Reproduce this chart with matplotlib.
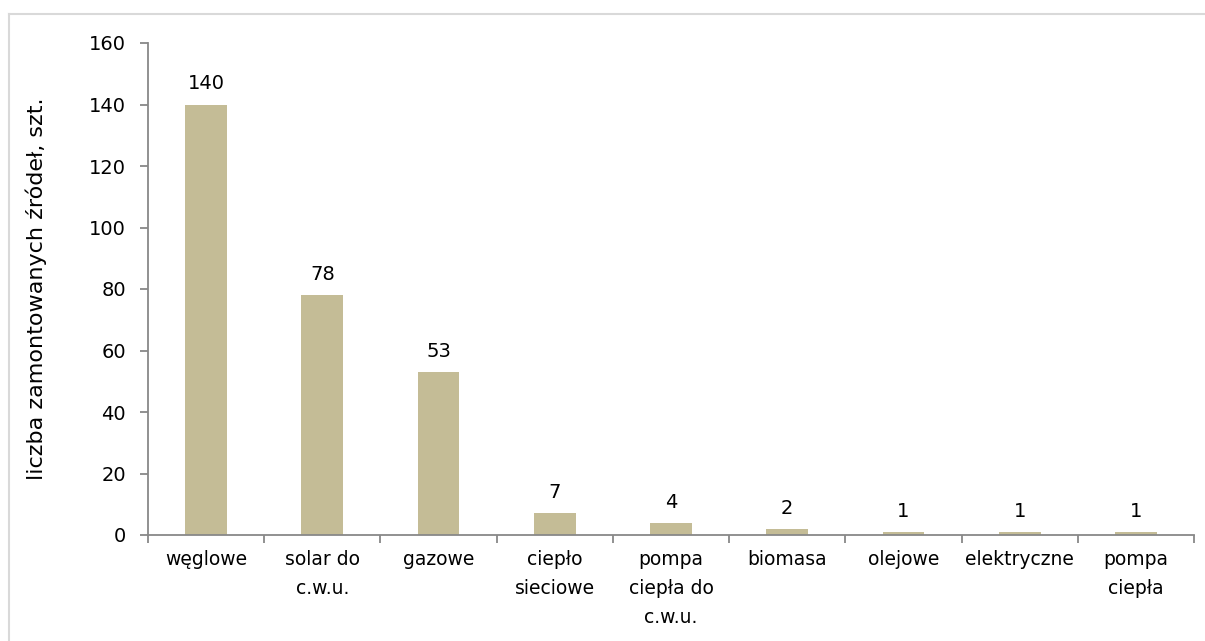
import matplotlib
matplotlib.use("Agg")
import matplotlib.pyplot as plt
import numpy as np
from matplotlib.lines import Line2D

categories = ["węglowe", "solar do\nc.w.u.", "gazowe", "ciepło\nsieciowe",
              "pompa\nciepła do\nc.w.u.", "biomasa", "olejowe", "elektryczne", "pompa\nciepła"]
values = [140, 78, 53, 7, 4, 2, 1, 1, 1]
y_ticks = [0, 20, 40, 60, 80, 100, 120, 140, 160]
y_label = "liczba zamontowanych źródeł, szt."

plt.rcParams['font.family'] = ['DejaVu Sans']
fs = 14
fig = plt.figure(figsize=(12.05, 6.41), dpi=100)
ax = fig.add_axes([148/1205, 106/641, (1194-148)/1205, (535-43)/641])

x = np.arange(len(categories))
ax.bar(x, values, width=0.36, color="#C4BC96", zorder=2)
for xi, v in zip(x, values):
    ax.annotate(str(v), (xi, v), xytext=(0, 8), textcoords="offset points",
                ha="center", va="bottom", fontsize=fs, color="black")

ax.set_xlim(-0.5, len(categories) - 0.5)
ax.set_ylim(0, 160)
ax.set_yticks(y_ticks)
ax.set_xticks(np.arange(len(categories) + 1) - 0.5)
ax.set_xticklabels([])
ax.set_xticks(x, minor=True)
ax.set_xticklabels(categories, minor=True, fontsize=13.5, linespacing=1.65, va="top")
ax.tick_params(axis="x", which="major", length=6, color="#888888", direction="out", width=1.3)
ax.tick_params(axis="x", which="minor", length=0, pad=11)
ax.tick_params(axis="y", length=6, color="#888888", direction="out", width=1.3, labelsize=fs, pad=10)
for s in ["top", "right"]:
    ax.spines[s].set_visible(False)
for s in ["left", "bottom"]:
    ax.spines[s].set_color("#888888")
    ax.spines[s].set_linewidth(1.3)
ax.set_ylabel(y_label, fontsize=16, labelpad=30)

# outer chart border (left and top visible)
fig.add_artist(Line2D([9/1205, 9/1205], [0, 1 - 14/641], transform=fig.transFigure, color="#D9D9D9", lw=1.5))
fig.add_artist(Line2D([9/1205, 1], [1 - 14/641, 1 - 14/641], transform=fig.transFigure, color="#D9D9D9", lw=1.5))

fig.savefig("out.png", dpi=100)
